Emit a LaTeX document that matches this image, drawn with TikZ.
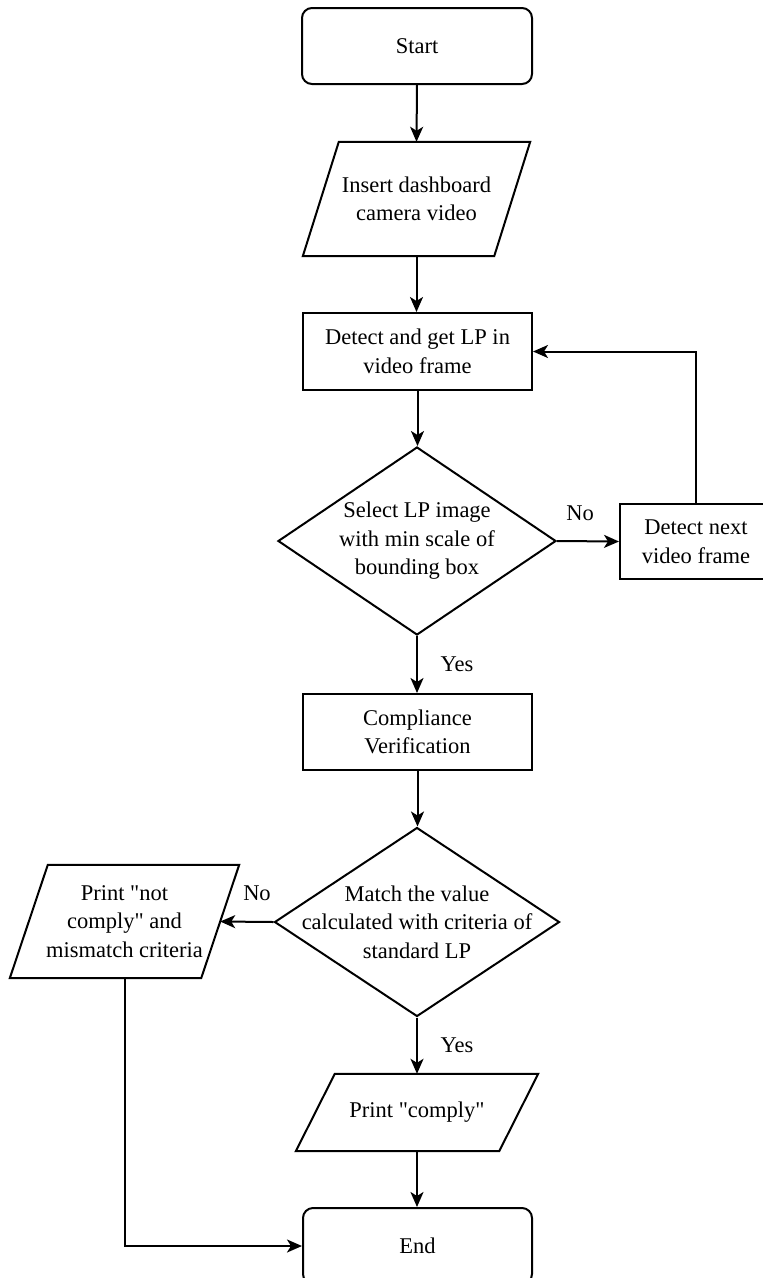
\documentclass[tikz,border=0pt]{standalone}
\usepackage{fontspec}
\setmainfont{Liberation Serif}[Ligatures=TeXOff]
\usetikzlibrary{shapes.geometric,arrows.meta}
\begin{document}
\begin{tikzpicture}[x=1pt,y=-1pt,
  every node/.style={font=\fontsize{22.5}{28.5}\selectfont, text=black},
  base/.style={line width=2pt, draw=black},
  procbox/.style={base, rectangle, inner sep=0pt, align=center},
  termbox/.style={base, rectangle, rounded corners=10pt, inner sep=0pt, align=center},
  iobox/.style={rectangle, inner sep=0pt, align=center},
  decbox/.style={base, diamond, inner sep=0pt, minimum width=#1},
  lbl/.style={inner sep=0pt},
  conn/.style={line width=2pt, draw=black, -{Stealth[length=15pt,width=13pt,inset=4pt]}}
]
\useasboundingbox (0,0) rectangle (763,1278);

% nodes
\node[termbox, minimum width=230pt, minimum height=76pt] (start) at (417,46) {Start};

\node[iobox, minimum width=191pt, minimum height=114pt] (insert) at (416.5,199) {Insert dashboard\\camera video};
\draw[base] ([xshift=18pt]insert.north west) -- ([xshift=18pt]insert.north east)
  -- ([xshift=-18pt]insert.south east) -- ([xshift=-18pt]insert.south west) -- cycle;

\node[procbox, minimum width=229pt, minimum height=77pt] (detect) at (417.5,351.5) {Detect and get LP in\\video frame};

\node[decbox=278pt, minimum height=188pt] (sel) at (417,541) {};
\node[lbl, align=center] (seltext) at (417,541) {Select LP image\\with min scale of\\bounding box};

\node[procbox, minimum width=152pt, minimum height=75pt] (next) at (696,541.5) {Detect next\\video frame};

\node[procbox, minimum width=229pt, minimum height=76pt] (comp) at (417.5,732) {Compliance\\Verification};

\node[decbox=285pt, minimum height=189pt] (match) at (417,922) {};
\node[lbl, align=center] (matchtext) at (417,922) {Match the value\\calculated with criteria of\\standard LP};

\node[iobox, minimum width=191pt, minimum height=113pt] (notc) at (124.5,921.5) {Print "not\\comply" and\\mismatch criteria};
\draw[base] ([xshift=19pt]notc.north west) -- ([xshift=19pt]notc.north east)
  -- ([xshift=-19pt]notc.south east) -- ([xshift=-19pt]notc.south west) -- cycle;

\node[iobox, minimum width=203pt, minimum height=77pt] (comply) at (417,1112.5) {Print "comply"};
\draw[base] ([xshift=19.5pt]comply.north west) -- ([xshift=19.5pt]comply.north east)
  -- ([xshift=-19.5pt]comply.south east) -- ([xshift=-19.5pt]comply.south west) -- cycle;

\node[termbox, minimum width=229pt, minimum height=76pt] (end) at (417.5,1246) {End};

% labels
\node[lbl] (no1) at (580,513) {No};
\node[lbl] (yes1) at (457,664) {Yes};
\node[lbl] (no2) at (257,893) {No};
\node[lbl] (yes2) at (457,1045) {Yes};

% connectors
\draw[conn] (start.south) -- (insert.south |- insert.north);
\draw[conn] (insert.south) -- (insert.south |- detect.north);
\draw[conn] (detect.south) -- (detect.south |- sel.north);
\draw[conn] (sel.east) -- (next.west);
\draw[conn] (next.north) |- (detect.east);
\draw[conn] (sel.south) -- (sel.south |- comp.north);
\draw[conn] (comp.south) -- (comp.south |- match.north);
\draw[conn] (match.west) -- (notc.east);
\draw[conn] (match.south) -- (match.south |- comply.north);
\draw[conn] (comply.south) -- (comply.south |- end.north);
\draw[conn] (notc.south) |- (end.west);
\end{tikzpicture}
\end{document}
